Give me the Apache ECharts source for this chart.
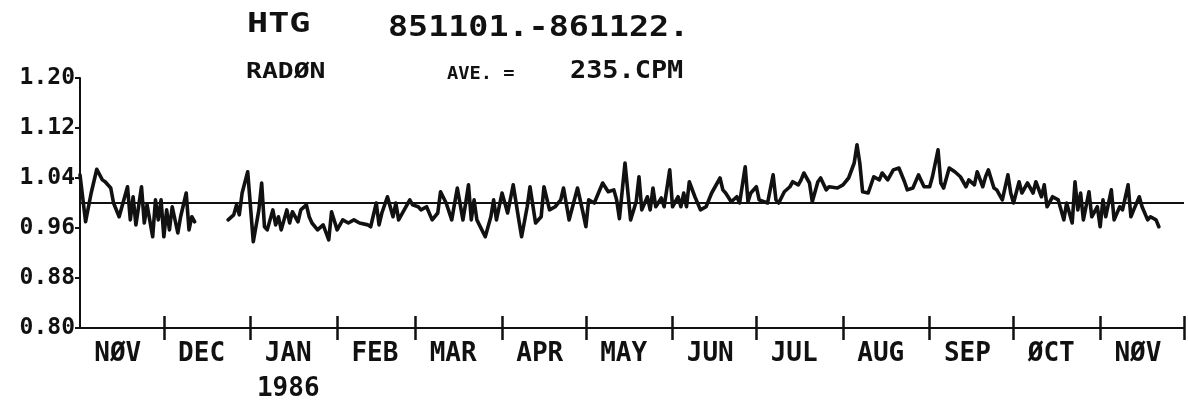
<!DOCTYPE html>
<html><head><meta charset="utf-8">
<script src="https://cdn.jsdelivr.net/npm/echarts@6/dist/echarts.min.js"></script>
<style>html,body{margin:0;padding:0;background:#fff}#c{width:1188px;height:412px}</style>
</head><body><div id="c"></div>
<script>
// Month labels (plotter draws letter O as Ø) and month boundaries in days since 1985-11-01
const monthLabels = ['NØV','DEC','JAN','FEB','MAR','APR','MAY','JUN','JUL','AUG','SEP','ØCT','NØV'];
const monthStartDays = [0,30,61,92,120,151,181,212,242,273,304,334,365,395];
const yearLabel = '1986';
const yTickLabels = ['0.80','0.88','0.96','1.04','1.12','1.20'];
const averageRatio = 1.0;

// Radon count ratio (count / 235 CPM average), days since 1985-11-01; null = data gap
const dayOffsets = [
  0,2,4,6,8,9,11,12,14,15,17,18,19,20,22,23,24,26,27,28,29,30,31,32,33,35,36,38,39,40,41,
  47,
  53,55,56,57,58,60,61,62,64,65,66,67,69,70,71,72,74,75,76,78,79,81,82,83,85,87,89,90,92,94,96,98,100,
  103,104,106,107,108,110,112,113,114,116,118,119,121,122,124,126,128,129,131,133,135,137,138,139,140,
  141,142,145,147,148,149,151,153,155,157,158,160,161,163,165,166,168,170,172,173,175,178,180,181,182,
  184,187,189,191,192,193,195,197,199,200,201,203,204,205,206,208,209,211,212,214,215,216,217,218,220,
  222,224,226,229,230,231,233,235,236,238,239,240,242,243,246,248,249,250,252,254,255,257,258,259,261,
  262,264,265,267,268,271,273,275,277,278,279,280,282,284,286,287,289,291,293,295,296,298,300,302,304,
  305,307,308,309,311,313,315,317,318,320,321,323,324,325,327,328,330,332,333,334,336,337,339,341,342,
  344,345,346,348,350,352,353,355,356,357,358,359,361,362,364,365,366,367,369,370,372,373,375,376,377,
  379,380,382,383,385,386
];
const radonRatio = [
  1.045,0.970,1.016,1.054,1.037,1.034,1.024,1.000,0.978,0.994,1.026,0.973,1.010,0.965,1.026,0.968,0.997,0.946,1.005,0.973,1.005,0.946,0.989,0.957,0.994,0.952,0.978,1.016,0.957,0.978,0.970,
  null,
  0.973,0.981,0.997,0.981,1.016,1.050,0.994,0.938,0.989,1.032,0.962,0.957,0.989,0.965,0.978,0.957,0.989,0.968,0.986,0.970,0.989,0.997,0.978,0.968,0.957,0.965,0.941,0.986,0.957,0.973,0.968,0.973,0.968,
  0.965,0.962,1.000,0.965,0.984,1.010,0.978,1.000,0.973,0.989,1.005,0.997,0.994,0.989,0.994,0.973,0.984,1.018,1.000,0.973,1.024,0.973,1.000,1.029,0.973,
  1.005,0.973,0.946,0.978,1.005,0.973,1.016,0.984,1.029,0.973,0.946,0.994,1.026,0.968,0.978,1.026,0.989,0.994,1.005,1.024,0.973,1.024,0.984,0.962,1.005,
  1.000,1.032,1.018,1.021,1.005,0.975,1.064,0.973,1.002,1.042,0.989,1.010,0.989,1.024,0.994,1.008,0.994,1.053,0.994,1.010,0.994,1.016,0.994,1.034,1.010,
  0.989,0.994,1.016,1.040,1.021,1.016,1.002,1.010,1.000,1.058,1.002,1.016,1.026,1.005,1.000,1.045,1.005,1.000,1.018,1.026,1.034,1.029,1.037,1.048,1.032,
  1.002,1.034,1.040,1.021,1.026,1.024,1.029,1.040,1.064,1.093,1.064,1.018,1.016,1.042,1.037,1.048,1.037,1.053,1.056,1.034,1.021,1.024,1.045,1.026,1.026,
  1.042,1.085,1.032,1.024,1.056,1.050,1.042,1.026,1.037,1.029,1.050,1.026,1.042,1.053,1.024,1.021,1.005,1.045,1.016,1.000,1.034,1.016,1.032,1.016,1.034,
  1.010,1.029,0.994,1.010,1.005,0.973,1.000,0.968,1.034,0.989,1.016,0.973,1.018,0.978,0.994,0.962,1.005,0.978,1.021,0.973,0.994,0.989,1.029,0.978,0.989,
  1.010,0.994,0.973,0.978,0.973,0.962
];

const seriesData = dayOffsets.map((d, i) => [d, radonRatio[i]]);
const labelDays = monthLabels.map((_, i) => monthStartDays[i] + 13.5);
const tickDays = monthStartDays.slice(1);

const FONT = '"DejaVu Sans Mono", "Liberation Mono", monospace';
const INK = '#111';

const chart = echarts.init(document.getElementById('c'), null, {renderer: 'canvas'});
chart.setOption({
  animation: false,
  backgroundColor: '#fff',
  grid: {left: 80, right: 4, top: 78, bottom: 84, containLabel: false},
  xAxis: [{
    type: 'value', min: monthStartDays[0], max: monthStartDays[monthStartDays.length - 1],
    axisLine: {show: true, lineStyle: {color: INK, width: 2}},
    splitLine: {show: false},
    axisTick: {show: true, customValues: tickDays, length: 12, lineStyle: {color: INK, width: 2.5}},
    axisLabel: {
      show: true, customValues: labelDays, margin: 9,
      fontFamily: FONT, fontSize: 26, fontWeight: 'bold', color: INK, lineHeight: 35,
      formatter: function (v) {
        const i = labelDays.findIndex(x => Math.abs(x - v) < 0.01);
        if (i < 0) return '';
        return monthLabels[i] === 'JAN' ? 'JAN\n' + yearLabel : monthLabels[i];
      }
    }
  }, {
    type: 'value', position: 'bottom', min: monthStartDays[0], max: monthStartDays[monthStartDays.length - 1],
    axisLine: {show: false}, splitLine: {show: false},
    axisTick: {show: true, inside: true, customValues: tickDays, length: 12, lineStyle: {color: INK, width: 2.5}},
    axisLabel: {show: false}
  }],
  yAxis: {
    type: 'value', min: 0.8, max: 1.2, interval: 0.08,
    axisLine: {show: true, lineStyle: {color: INK, width: 2}},
    splitLine: {show: false},
    axisTick: {show: true, length: 5, lineStyle: {color: INK, width: 2}},
    axisLabel: {
      margin: 5, fontFamily: FONT, fontSize: 23, fontWeight: 'bold', color: INK,
      formatter: function (v) {
        const idx = Math.round((v - 0.8) / 0.08);
        return yTickLabels[idx] !== undefined ? yTickLabels[idx] : v.toFixed(2);
      }
    }
  },
  graphic: [
    {type: 'text', x: 247, y: 25, scaleX: 1.3, style: {text: 'HTG', font: 'bold 27px ' + FONT, fill: INK, textVerticalAlign: 'middle'}},
    {type: 'text', x: 388, y: 28, scaleX: 1.15, style: {text: '851101.-861122.', font: 'bold 29px ' + FONT, fill: INK, textVerticalAlign: 'middle'}},
    {type: 'text', x: 246, y: 72, scaleX: 1.2, style: {text: 'RADØN', font: 'bold 22px ' + FONT, fill: INK, textVerticalAlign: 'middle'}},
    {type: 'text', x: 447, y: 75, scaleX: 1.1, style: {text: 'AVE. =', font: 'bold 17px ' + FONT, fill: INK, textVerticalAlign: 'middle'}},
    {type: 'text', x: 570, y: 72, scaleX: 1.12, style: {text: '235.CPM', font: 'bold 24px ' + FONT, fill: INK, textVerticalAlign: 'middle'}}
  ],
  series: [{
    type: 'line', xAxisIndex: 0, data: seriesData, showSymbol: false, connectNulls: false,
    lineStyle: {color: INK, width: 3.6, join: 'round', cap: 'round'},
    markLine: {
      silent: true, symbol: ['none', 'none'], label: {show: false},
      lineStyle: {color: INK, width: 2, type: 'solid'},
      data: [{yAxis: averageRatio}]
    }
  }]
});
</script></body></html>
